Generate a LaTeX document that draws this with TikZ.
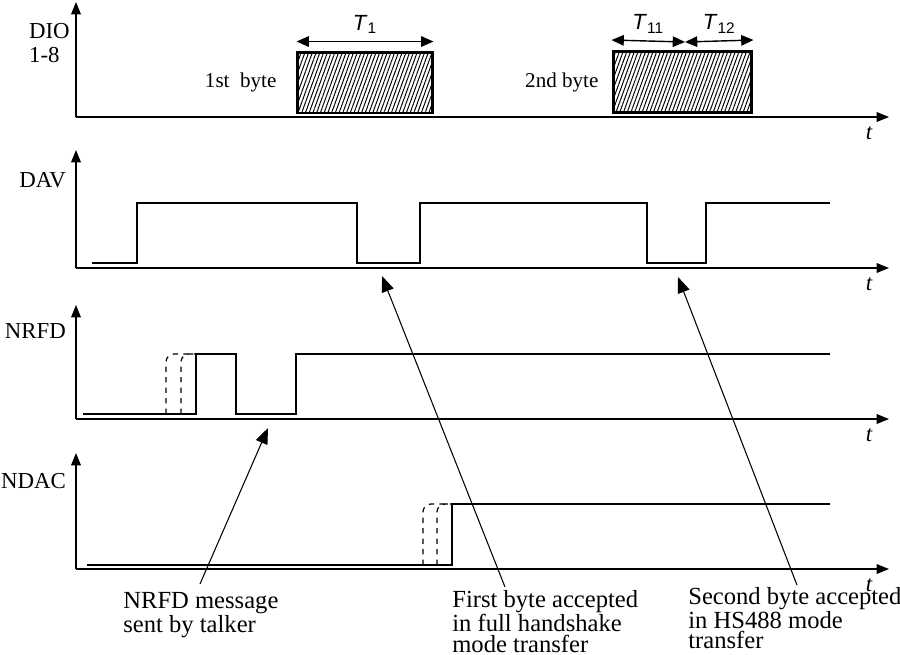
\documentclass[tikz,border=0pt]{standalone}
\usepackage{fontspec}
\setmainfont{Liberation Serif}
\setsansfont{Liberation Sans}
\usetikzlibrary{positioning, arrows.meta, patterns.meta}

\begin{document}
\begin{tikzpicture}[x=0.02cm, y=-0.02cm, every node/.style={inner sep=1pt},
  axis/.style={-{Triangle[length=7pt,width=5.5pt]}, line width=0.7pt},
  signal/.style={line width=1.5pt},
  guess/.style={dashed, line width=0.7pt, rounded corners=0.16cm},
  bytebox/.style={draw, line width=1.7pt, minimum height=1.22cm,
    pattern={Lines[angle=70,distance=2pt,line width=0.55pt]}},
  span/.style={{Triangle[length=7pt,width=6pt]}-{Triangle[length=7pt,width=6pt]}, line width=0.8pt},
  lbl/.style={font=\fontsize{13}{13.6}\selectfont},
  bytelbl/.style={font=\fontsize{12}{13}\selectfont},
  tlab/.style={font=\sffamily\fontsize{12.5}{13}\selectfont},
  tvar/.style={font=\fontsize{13}{13}\selectfont\itshape},
  note/.style={font=\fontsize{14}{11.5}\selectfont, align=left, anchor=north west, inner sep=0pt},
  pointer/.style={-{Triangle[length=9pt,width=7pt]}, line width=0.6pt}]

\useasboundingbox (0,0) rectangle (900,654);

% four time axes
\foreach \name/\top/\base in {dio/2/117, dav/150/268, nrfd/305/419, ndac/453/569} {
  \coordinate (\name-o) at (76,\base);
  \coordinate (\name-y) at (76,\top);
  \coordinate (\name-x) at (889,\base);
  \draw[axis] (\name-o) -- (\name-y);
  \draw[axis] (\name-o) -- (\name-x);
  \node[tvar] (\name-t) at (869,\base+16) {t};
}

\node[lbl, anchor=north west, align=left] (dio-lbl) at (27,21) {DIO\\1-8};
\node[lbl, anchor=east] (dav-lbl) at (68,180) {DAV};
\node[lbl, anchor=east] (nrfd-lbl) at (68,331) {NRFD};
\node[lbl, anchor=east] (ndac-lbl) at (68,481) {NDAC};

% data bytes
\node[bytebox, minimum width=2.72cm] (byte1) at (365,82.5) {};
\node[bytebox, minimum width=2.78cm] (byte2) at (682.5,82) {};
\node[bytelbl, left=0.36cm of byte1] (byte1-lbl) {1st\ \ byte};
\node[bytelbl, left=0.22cm of byte2] (byte2-lbl) {2nd byte};

\coordinate (split) at (685,42);
\draw[span] ([yshift=0.2cm]byte1.north west) -- node[tlab, above=3pt] (t1) {\textit{T}\textsubscript{1}} ([yshift=0.2cm]byte1.north east);
\draw[span] ([yshift=0.2cm]byte2.north west) -- node[tlab, above=3pt] (t11) {\textit{T}\textsubscript{11}} (split);
\draw[span] (split) -- node[tlab, above=3pt] (t12) {\textit{T}\textsubscript{12}} ([yshift=0.2cm]byte2.north east);

% handshake lines
\draw[signal] (92,263) -| (137,203) -| (357,263) -| (420,203) -| (647,263) -| (706,203) -- (830,203);
\draw[signal] (83,414) -| (196,354) -| (236,414) -| (296,354) -- (830,354);
\draw[guess] (166,414) |- (196,354);
\draw[guess] (181,414) |- (196,354);
\draw[signal] (87,565) -| (452,504) -- (830,504);
\draw[guess] (423,565) |- (452,504);
\draw[guess] (437,565) |- (452,504);

% remarks
\coordinate (nrfd-tip) at (268,428);
\coordinate (first-tip) at (382,276);
\coordinate (second-tip) at (678,277);
\node[note] (nrfd-note) at (123,592) {NRFD message\\sent by talker};
\node[note] (first-note) at (452,590) {First byte accepted\\in full handshake\\mode transfer};
\node[note] (second-note) at (688,587) {Second byte accepted\\in HS488 mode\\transfer};
\draw[pointer] ([xshift=1.54cm,yshift=0.16cm]nrfd-note.north west) -- (nrfd-tip);
\draw[pointer] ([xshift=1.06cm,yshift=0.06cm]first-note.north west) -- (first-tip);
\draw[pointer] ([xshift=2.18cm,yshift=0.04cm]second-note.north west) -- (second-tip);
\end{tikzpicture}
\end{document}
